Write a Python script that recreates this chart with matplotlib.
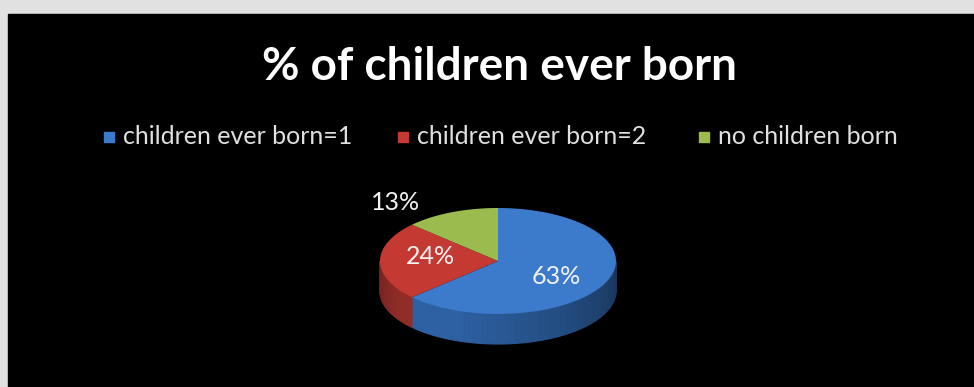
import numpy as np
import matplotlib
matplotlib.use("Agg")
import matplotlib.pyplot as plt
import matplotlib.colors as mcolors
from matplotlib.patches import Polygon, Rectangle

# data
labels = ["children ever born=1", "children ever born=2", "no children born"]
shares = [63, 24, 13]
top_colors = ["#3c7bcb", "#c43a33", "#9bbb4e"]
side_colors = ["#2d61a3", "#922c27", "#6f8c35"]

W, H = 974, 387
FONT = "Lato"

fig = plt.figure(figsize=(W / 100, H / 100), dpi=100, facecolor="#e1e1e1")
ax = fig.add_axes([0, 0, 1, 1])
ax.set_xlim(0, W)
ax.set_ylim(H, 0)
ax.axis("off")

# black chart area
ax.add_patch(Rectangle((8, 14), W - 8, H - 14, color="black", zorder=0))

# pie geometry (pixel units)
cx, cy = 498, 261
a, b = 118, 53
depth = 30


def ell(theta_deg):
    t = np.radians(theta_deg)
    return cx + a * np.cos(t), cy - b * np.sin(t)


def shade(col, f):
    r, g, bb = mcolors.to_rgb(col)
    return (r * f, g * f, bb * f)


# slices go clockwise from 12 o'clock
angles = []
start = 90.0
for s in shares:
    end = start - s / sum(shares) * 360
    angles.append((end, start))
    start = end

# side walls (front half: 180..360 deg), drawn in strips for shading
for (t0, t1), col in zip(angles, side_colors):
    lo = t0 % 360
    hi = t1 % 360
    if hi <= lo:
        hi += 360
    seg_lo, seg_hi = max(lo, 180), min(hi, 360)
    if seg_hi <= seg_lo:
        continue
    edges = np.linspace(seg_lo, seg_hi, 60)
    for e0, e1 in zip(edges[:-1], edges[1:]):
        th = np.linspace(e0, e1, 4)
        xs, ys = ell(th)
        pts = np.column_stack([np.r_[xs, xs[::-1]], np.r_[ys, ys[::-1] + depth]])
        # darker towards the right and the far left
        m = (e0 + e1) / 2
        f = 1.0 - 0.45 * max(0, (m - 250) / 110) - 0.25 * max(0, (215 - m) / 35)
        c = shade(col, f)
        ax.add_patch(Polygon(pts, closed=True, facecolor=c, edgecolor=c,
                             linewidth=0.8, zorder=2))

# top faces
for (t0, t1), col in zip(angles, top_colors):
    th = np.linspace(t0, t1, 120)
    xs, ys = ell(th)
    pts = np.column_stack([np.r_[cx, xs], np.r_[cy, ys]])
    ax.add_patch(Polygon(pts, closed=True, facecolor=col, edgecolor="none", zorder=3))

# percentage labels
lab_pos = [(556, 277), (430, 256), (396, 202)]
for s, (x, y) in zip(shares, lab_pos):
    ax.text(x, y, f"{s}%", color="#f2f2f2", fontsize=18, family=FONT,
            ha="center", va="center", zorder=4)

# title
ax.text(499, 67, "% of children ever born", color="white", fontsize=33,
        fontweight="bold", family=FONT, ha="center", va="center")

# legend
leg_x = [104, 398, 699]
for x, lab, col in zip(leg_x, labels, top_colors):
    ax.add_patch(Rectangle((x, 132), 10, 10, color=col))
    ax.text(x + 19, 137, lab, color="#e0e0e0", fontsize=18, family=FONT,
            ha="left", va="center")

fig.savefig("out.png", dpi=100, facecolor=fig.get_facecolor())
